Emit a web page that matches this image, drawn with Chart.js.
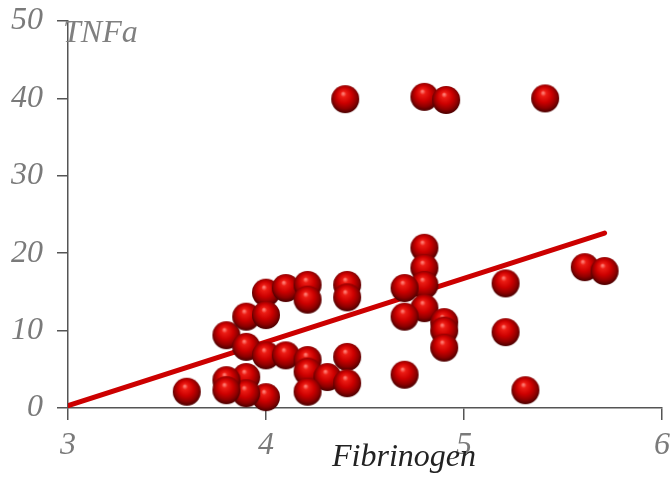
<!DOCTYPE html>
<html>
<head>
<meta charset="utf-8">
<script src="https://cdn.jsdelivr.net/npm/chart.js@4"></script>
<style>
  html, body { margin: 0; padding: 0; background: #fff; }
  #wrap { width: 672px; height: 478px; }
</style>
</head>
<body>
<div id="wrap"><canvas id="chart" width="672" height="478"></canvas></div>
<script>
// data
const fibrinogen = [4.40, 4.80, 4.91, 5.41, 4.80, 4.80, 4.80, 4.80, 4.70, 4.70,
                    4.90, 4.90, 4.90, 5.21, 5.21, 4.70, 5.31, 5.61, 5.71, 3.60,
                    3.80, 3.90, 4.00, 4.10, 4.21, 4.21, 4.41, 4.41, 4.00, 3.90,
                    4.00, 4.10, 4.21, 4.21, 4.31, 4.41, 4.41, 4.21, 4.00, 3.90,
                    3.90, 3.80, 3.80];
const tnfa       = [39.9, 40.2, 39.8, 40.0, 20.7, 18.1, 15.9, 12.9, 15.5, 11.8,
                    11.1, 10.0, 7.8, 16.1, 9.8, 4.3, 2.3, 18.2, 17.7, 2.1,
                    9.4, 11.8, 14.9, 15.5, 15.9, 14.0, 15.9, 14.3, 12.0, 7.9,
                    6.8, 6.8, 6.2, 4.7, 4.0, 6.6, 3.2, 2.1, 1.4, 4.0,
                    1.9, 3.6, 2.3];
const fitX = [3, 5.71];
const fitY = [0.3, 22.6];
const xTicks = [3, 4, 5, 6];
const yTicks = [0, 10, 20, 30, 40, 50];

// shaded red ball used as the point image
function makeBall(r) {
  const c = document.createElement("canvas");
  c.width = c.height = r * 2 + 2;
  const g = c.getContext("2d");
  const cx = r + 1, cy = r + 1;
  const grad = g.createRadialGradient(cx - r * 0.15, cy - r * 0.4, r * 0.05, cx, cy - r * 0.1, r * 1.05);
  grad.addColorStop(0, "#ff7a70");
  grad.addColorStop(0.16, "#ec1c14");
  grad.addColorStop(0.5, "#cc0000");
  grad.addColorStop(0.8, "#8e0000");
  grad.addColorStop(1, "#520000");
  g.fillStyle = grad;
  g.beginPath();
  g.arc(cx, cy, r, 0, Math.PI * 2);
  g.fill();
  return c;
}
const ball = makeBall(14);

const points = fibrinogen.map((x, i) => ({ x: x, y: tnfa[i] }));
const fitLine = fitX.map((x, i) => ({ x: x, y: fitY[i] }));

// axis captions
const captions = {
  id: "captions",
  afterDraw(chart) {
    const ctx = chart.ctx;
    ctx.save();
    ctx.font = "italic 32px 'Liberation Serif', serif";
    ctx.textBaseline = "alphabetic";
    ctx.textAlign = "left";
    ctx.fillStyle = "#808080";
    ctx.fillText("TNFa", 63, 42);
    ctx.fillStyle = "#222";
    ctx.fillText("Fibrinogen", 332, 466);
    ctx.restore();
  }
};

const tickFont = { family: "'Liberation Serif', serif", size: 32, style: "italic" };

new Chart(document.getElementById("chart"), {
  type: "scatter",
  data: {
    datasets: [
      {
        data: points,
        pointStyle: ball,
        pointRadius: 14,
        pointHoverRadius: 14,
        clip: false,
        order: 1
      },
      {
        type: "line",
        data: fitLine,
        borderColor: "#cc0000",
        borderWidth: 5,
        borderCapStyle: "round",
        pointRadius: 0,
        fill: false,
        order: 2
      }
    ]
  },
  options: {
    responsive: false,
    animation: false,
    devicePixelRatio: 1,
    layout: { autoPadding: false, padding: { top: 21, right: 10, left: 0, bottom: 0 } },
    plugins: { legend: { display: false }, tooltip: { enabled: false } },
    scales: {
      x: {
        type: "linear",
        min: 3,
        max: 6,
        afterBuildTicks: s => { s.ticks = xTicks.map(v => ({ value: v })); },
        afterFit: s => { s.height = 70; s.paddingLeft = 0; s.paddingRight = 0; },
        ticks: { font: tickFont, color: "#7a7a7a", padding: 6 },
        grid: { drawOnChartArea: false, tickLength: 12, color: "#555", lineWidth: 1.5 },
        border: { color: "#555", width: 1.5 }
      },
      y: {
        min: 0,
        max: 50,
        afterBuildTicks: s => { s.ticks = yTicks.map(v => ({ value: v })); },
        afterFit: s => { s.width = 68; s.paddingTop = 0; s.paddingBottom = 0; },
        ticks: { font: tickFont, color: "#7a7a7a", padding: 14 },
        grid: { drawOnChartArea: false, tickLength: 11, color: "#555", lineWidth: 1.5 },
        border: { color: "#555", width: 1.5 }
      }
    }
  },
  plugins: [captions]
});
</script>
</body>
</html>
